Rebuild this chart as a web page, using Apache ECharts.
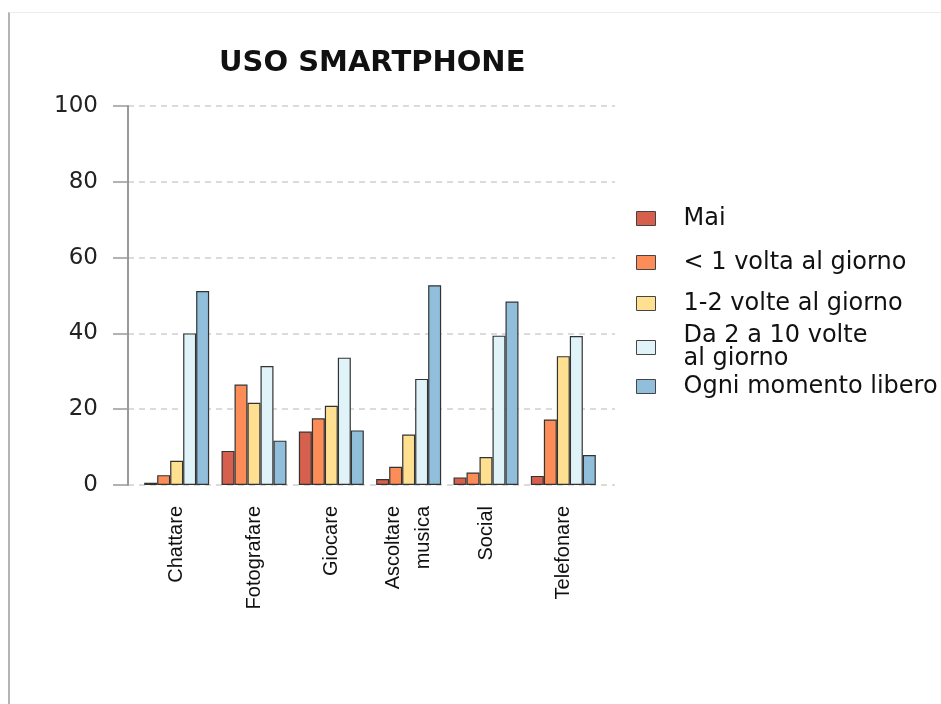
<!DOCTYPE html>
<html>
<head>
<meta charset="utf-8">
<script src="https://cdn.jsdelivr.net/npm/echarts@6/dist/echarts.min.js"></script>
<style>
  html, body { margin: 0; padding: 0; background: #fff; }
  #frame {
    position: absolute; left: 8px; top: 12px; right: 0; bottom: 0;
    border-left: 2px solid #b4b4b4; border-top: 1px solid #ececec;
  }
  #chart { position: absolute; left: 0; top: 0; width: 941px; height: 704px; }
</style>
</head>
<body>
<div id="frame"></div>
<div id="chart"></div>
<script>
const categories = ['Chattare', 'Fotografare', 'Giocare', 'Ascoltare\nmusica', 'Social', 'Telefonare']
const seriesNames = ['Mai', '< 1 volta al giorno', '1-2 volte al giorno', 'Da 2 a 10 volte\nal giorno', 'Ogni momento libero']
const mai = [0.6, 9.0, 14.1, 1.6, 2.0, 2.4]
const menoUna = [2.6, 26.5, 17.6, 4.8, 3.3, 17.3]
const unaDue = [6.4, 21.7, 20.9, 13.3, 7.4, 34.0]
const daDueADieci = [40.0, 31.4, 33.6, 28.0, 39.4, 39.3]
const ogniMomento = [51.2, 11.7, 14.4, 52.7, 48.4, 7.9]
const yTicks = [0, 20, 40, 60, 80, 100]

const seriesValues = [mai, menoUna, unaDue, daDueADieci, ogniMomento]
const colors = ['#d6604d', '#fc8d59', '#fee090', '#e0f3f8', '#91bfdb']
const legendCenters = [218, 262, 303, 347, 386]

const chart = echarts.init(document.getElementById('chart'))

// one legend per entry so the two-line label keeps the row spacing
const legends = seriesNames.map((name, i) => {
  const lines = name.split('\n').length
  return {
    data: [name],
    orient: 'vertical',
    left: 636,
    top: legendCenters[i] - lines * 11.5,
    padding: 0,
    itemWidth: 19,
    itemHeight: 14,
    selectedMode: false,
    icon: 'rect',
    itemStyle: { borderColor: '#444', borderWidth: 1 },
    textStyle: {
      fontFamily: 'DejaVu Sans',
      fontSize: 24,
      lineHeight: 23,
      color: '#111',
      padding: [0, 0, 0, 23]
    }
  }
})

const option = {
  animation: false,
  backgroundColor: 'transparent',
  title: {
    text: 'USO SMARTPHONE',
    left: 214,
    top: 44,
    textStyle: { fontFamily: 'DejaVu Sans', fontWeight: 'bold', fontSize: 29, color: '#111' }
  },
  legend: legends,
  grid: [
    { left: 128, right: 326, top: 106, bottom: 219 },
    { left: 138, right: 339, top: 106, bottom: 219 }
  ],
  xAxis: [
    { type: 'category', gridIndex: 0, data: categories, show: false },
    {
      type: 'category',
      gridIndex: 1,
      data: categories,
      axisLine: { show: false },
      axisTick: { show: false },
      axisLabel: {
        rotate: 90,
        margin: 21,
        fontFamily: 'Liberation Sans',
        fontSize: 20,
        lineHeight: 30,
        color: '#111'
      }
    }
  ],
  yAxis: [
    {
      type: 'value',
      gridIndex: 0,
      min: yTicks[0],
      max: yTicks[yTicks.length - 1],
      interval: 20,
      axisLine: { show: true, lineStyle: { color: '#999', width: 2 } },
      axisTick: { show: true, length: 15, lineStyle: { color: '#999', width: 1.5 } },
      axisLabel: { margin: 30, fontFamily: 'DejaVu Sans', fontSize: 23, color: '#222' },
      splitLine: { show: true, lineStyle: { color: '#cfcfcf', width: 1.5, type: [6, 5] } }
    },
    {
      type: 'value',
      gridIndex: 1,
      min: yTicks[0],
      max: yTicks[yTicks.length - 1],
      interval: 20,
      show: false,
      splitLine: { show: false }
    }
  ],
  series: seriesNames.map((name, i) => ({
    name: name,
    type: 'bar',
    xAxisIndex: 1,
    yAxisIndex: 1,
    data: seriesValues[i],
    barGap: 0,
    barCategoryGap: '16%',
    itemStyle: { color: colors[i], borderColor: '#333', borderWidth: 1.2 }
  }))
}

chart.setOption(option)
</script>
</body>
</html>
